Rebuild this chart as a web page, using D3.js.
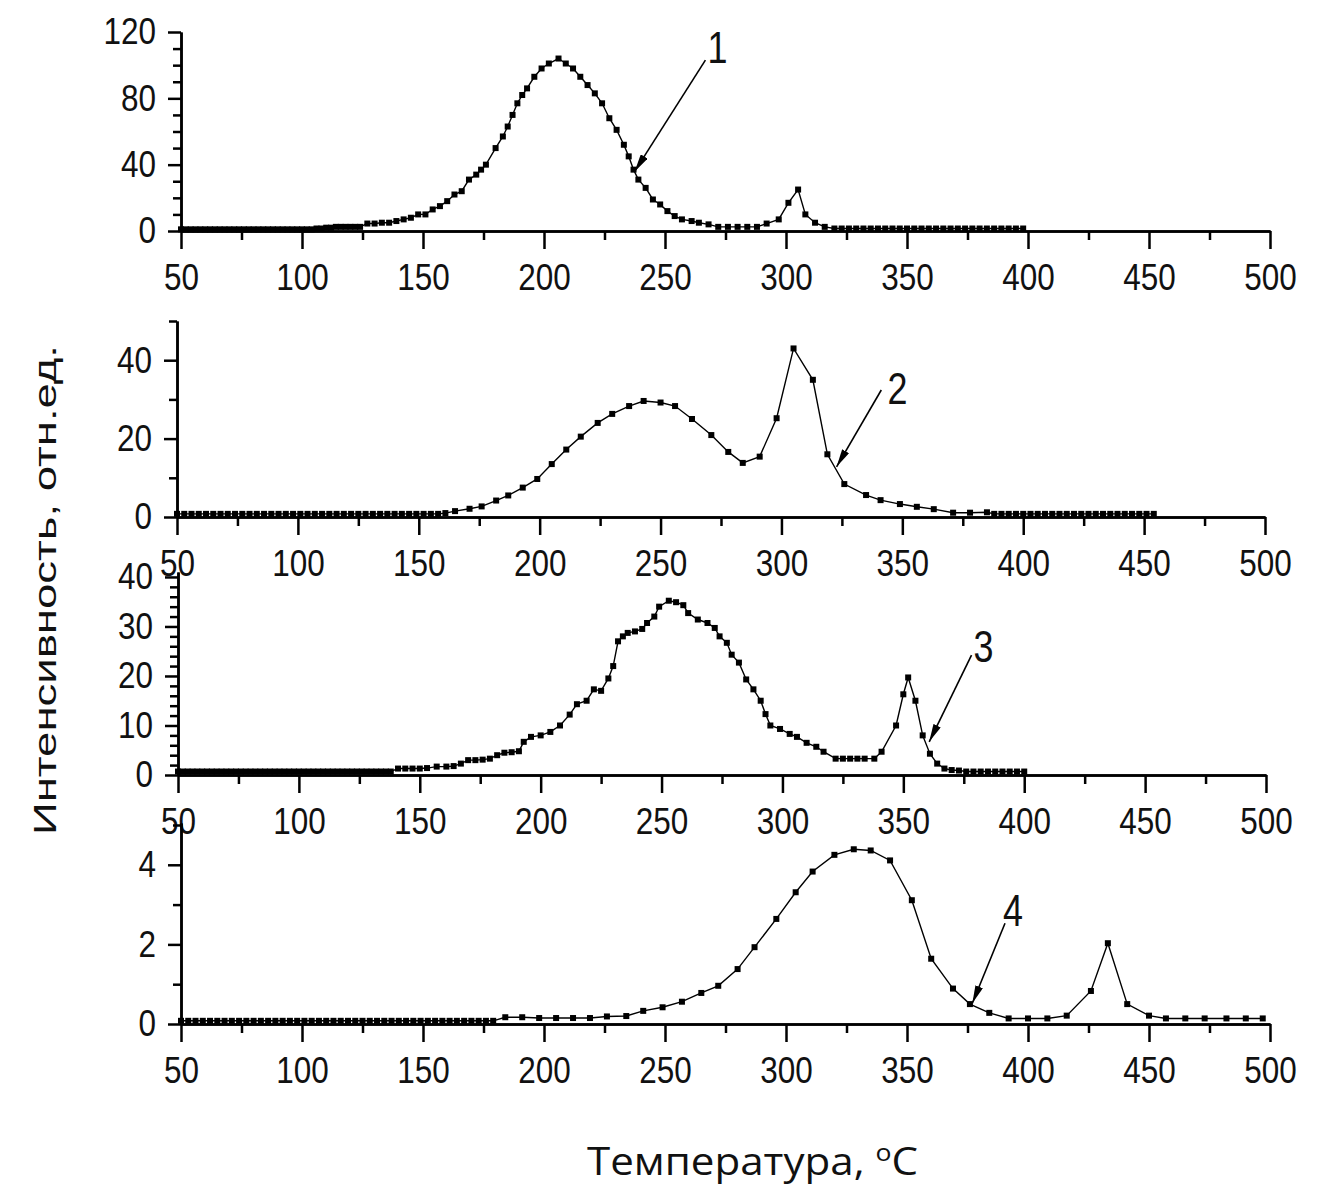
<!DOCTYPE html>
<html>
<head>
<meta charset="utf-8">
<script src="https://cdn.jsdelivr.net/npm/d3@7"></script>
<style>
  body { margin: 0; background: #fff; }
</style>
</head>
<body>
<svg id="chart"></svg>
<script>
const width = 1332;
const height = 1190;

// ---- data ----
const t1 = [50,52,54,56,58,60,62,64,66,68,70,72,74,76,78,80,82,84,86,88,90,92,94,96,98,100,102,104,106,108,
  110,112,114,116,118,120,122,124,
  127,130,133,136,139,142,145,148,151,154,157,160,163,166,169,172,174,176,180,183,185,187,189,191,193,196,199,202,206,209,212,215,218,221,224,227,230,233,235,237,239,242,245,248,251,254,257,261,264,268,272,276,280,284,288,292,297,301,305,308,312,316,320,
  323,326,329,332,335,338,341,344,347,350,353,356,359,362,365,368,371,374,377,380,383,386,389,392,395,398];
const i1 = [1,1,1,1,1,1,1,1,1,1,1,1,1,1,1,1,1,1,1,1,1,1,1,1,1,1,1,1,1.5,1.5,
  2,2,2.5,2.5,2.5,2.5,2.5,2.5,
  4.5,4.5,5,5,6,7,8,10,10,13,15,18,22,24,31,34,37,40,50,57,63,70,77,82,86,93,98,101,104,101,98,93,88,83,77,68,61,52,45,37,31,26,19,16,12,9,7,6,5,4,2.5,2.5,2.5,2.5,2.5,4.5,7,17,25,10,5,2.5,1.5,
  1.5,1.5,1.5,1.5,1.5,1.5,1.5,1.5,1.5,1.5,1.5,1.5,1.5,1.5,1.5,1.5,1.5,1.5,1.5,1.5,1.5,1.5,1.5,1.5,1.5,1.5];

const t2 = [50,53,56,59,62,65,68,71,74,77,80,83,86,89,92,95,98,101,104,107,110,113,116,119,122,125,128,131,134,137,140,143,146,149,152,155,158,
  161,165,171,176,182,187,193,199,205,211,217,224,230,237,243,250,256,263,271,278,284,291,298,305,313,319,326,335,341,349,356,363,371,378,385,
  388,391,394,397,400,403,406,409,412,415,418,421,424,427,430,433,436,439,442,445,448,451,454];
const i2 = [0.8,0.8,0.8,0.8,0.8,0.8,0.8,0.8,0.8,0.8,0.8,0.8,0.8,0.8,0.8,0.8,0.8,0.8,0.8,0.8,0.8,0.8,0.8,0.8,0.8,0.8,0.8,0.8,0.8,0.8,0.8,0.8,0.8,0.8,0.8,0.8,0.8,
  1,1.5,2.1,2.7,4.2,5.5,7.5,9.7,13.5,17.2,20.5,24,26.3,28.3,29.6,29.2,28.3,25,20.9,16.6,13.8,15.4,25.2,43,35,16,8.4,5.6,4.3,3.3,2.6,2,1.1,1.1,1.2,
  0.8,0.8,0.8,0.8,0.8,0.8,0.8,0.8,0.8,0.8,0.8,0.8,0.8,0.8,0.8,0.8,0.8,0.8,0.8,0.8,0.8,0.8,0.8];

const t3 = [50,52,54,56,58,60,62,64,66,68,70,72,74,76,78,80,82,84,86,88,90,92,94,96,98,100,102,104,106,108,110,112,114,116,118,120,122,124,126,128,130,132,134,136,138,
  141,144,147,150,153,157,161,164,167,170,173,176,179,182,185,188,191,193,196,200,204,208,212,215,219,222,225,228,230,232,234,236,239,242,244,247,249,253,256,259,261,265,269,272,274,277,279,282,285,288,291,293,295,299,303,306,310,314,317,322,325,328,331,334,338,341,347,350,352,355,358,361,364,367,370,373,
  376,379,382,385,388,391,394,397,400];
const i3 = [0.7,0.7,0.7,0.7,0.7,0.7,0.7,0.7,0.7,0.7,0.7,0.7,0.7,0.7,0.7,0.7,0.7,0.7,0.7,0.7,0.7,0.7,0.7,0.7,0.7,0.7,0.7,0.7,0.7,0.7,0.7,0.7,0.7,0.7,0.7,0.7,0.7,0.7,0.7,0.7,0.7,0.7,0.7,0.7,0.7,
  1.3,1.3,1.3,1.3,1.4,1.7,1.7,1.8,2.3,3,3,3.1,3.3,4,4.5,4.6,4.8,6.7,7.7,8,8.7,10,12.2,14.3,15,17.3,17,19.5,22,27,28,28.7,29,29.5,30.7,32,34,35.2,34.9,34.3,32.7,31.4,30.7,29.7,28,26.7,24.3,22.7,19.3,17.3,15,12.3,10,9.3,8.3,7.7,6.5,5.7,4.7,3.3,3.3,3.3,3.3,3.3,3.3,4.7,10,16.3,19.7,15,8,4.3,2.3,1.3,1.0,0.9,
  0.7,0.7,0.7,0.7,0.7,0.7,0.7,0.7,0.7];

const t4 = [50,53,56,59,62,65,68,71,74,77,80,83,86,89,92,95,98,101,104,107,110,113,116,119,122,125,128,131,134,137,140,143,146,149,152,155,158,161,164,167,170,173,176,179,
  184,191,198,205,212,219,226,234,241,249,257,265,272,280,287,296,304,311,320,328,335,343,352,360,369,376,384,392,400,408,416,426,433,441,450,457,465,473,482,490,497];
const i4 = [0.08,0.08,0.08,0.08,0.08,0.08,0.08,0.08,0.08,0.08,0.08,0.08,0.08,0.08,0.08,0.08,0.08,0.08,0.08,0.08,0.08,0.08,0.08,0.08,0.08,0.08,0.08,0.08,0.08,0.08,0.08,0.08,0.08,0.08,0.08,0.08,0.08,0.08,0.08,0.08,0.08,0.08,0.08,0.08,
  0.17,0.17,0.15,0.15,0.15,0.15,0.19,0.2,0.33,0.42,0.56,0.78,0.96,1.38,1.93,2.64,3.31,3.83,4.25,4.39,4.36,4.11,3.11,1.64,0.89,0.5,0.28,0.14,0.14,0.14,0.21,0.83,2.03,0.5,0.21,0.14,0.14,0.14,0.14,0.14,0.14];

// ticks
const xMajor = [50,100,150,200,250,300,350,400,450,500];
const xMinor = [75,125,175,225,275,325,375,425,475];
const yMajor1 = [0,40,80,120], yMinor1 = [10,20,30,50,60,70,90,100,110];
const yMajor2 = [0,20,40],      yMinor2 = [10,30,50];
const yMajor3 = [0,10,20,30,40], yMinor3 = [2,4,6,8,12,14,16,18,22,24,26,28,32,34,36,38];
const yMajor4 = [0,2,4],        yMinor4 = [1,3,5];

// callouts: [label, label T, label I, tail T, tail I, tip T, tip I]
const note1 = ["1", 271.7, 111, 266.7, 103, 237.4, 35.8];
const note2 = ["2", 348, 32.9, 341.3, 32.4, 322.8, 12.8];
const note3 = ["3", 383.2, 26.1, 378.2, 24.2, 360.7, 6.7];
const note4 = ["4", 393.8, 2.88, 390.5, 2.53, 377, 0.52];

const yTitle = "Интенсивность, отн.ед.";
const xTitle = "Температура, ";

// ---- layout ----
// narrow look: Arial-metric font squeezed per label
const tickFont = "'Liberation Sans', Arial, sans-serif";
const digitW = 17.5;

const panels = [
  {t: t1, v: i1, yMax: 120, yMajor: yMajor1, yMinor: yMinor1, note: note1, x0: 181, x1: 1270, yTop: 32,  yBot: 231},
  {t: t2, v: i2, yMax: 50,  yMajor: yMajor2, yMinor: yMinor2, note: note2, x0: 177, x1: 1265, yTop: 321, yBot: 517},
  {t: t3, v: i3, yMax: 41,  yMajor: yMajor3, yMinor: yMinor3, note: note3, x0: 178, x1: 1266, yTop: 572, yBot: 775},
  {t: t4, v: i4, yMax: 5.05, yMajor: yMajor4, yMinor: yMinor4, note: note4, x0: 181, x1: 1270, yTop: 823, yBot: 1024}
];

const svg = d3.select("#chart")
  .attr("width", width)
  .attr("height", height)
  .attr("viewBox", [0, 0, width, height]);

svg.append("defs").append("marker")
  .attr("id", "arrow")
  .attr("viewBox", "0 0 18 8")
  .attr("refX", 18).attr("refY", 4)
  .attr("markerWidth", 18).attr("markerHeight", 8)
  .attr("markerUnits", "userSpaceOnUse")
  .attr("orient", "auto")
  .append("path")
  .attr("d", "M0,0L18,4L0,8Z")
  .attr("fill", "#000");

function styleAxis(g) {
  g.attr("font-family", null).attr("font-size", null);
  g.selectAll(".domain").attr("stroke", "#000").attr("stroke-width", 2.5);
  g.selectAll(".tick line").attr("stroke", "#000").attr("stroke-width", 2.5);
  g.selectAll("text")
    .attr("fill", "#111")
    .style("font-family", tickFont)
    .style("font-size", "37px")
    .attr("textLength", function() { return this.textContent.length * digitW; })
    .attr("lengthAdjust", "spacingAndGlyphs");
}

panels.forEach(p => {
  const x = d3.scaleLinear([50, 500], [p.x0, p.x1]);
  const y = d3.scaleLinear([0, p.yMax], [p.yBot, p.yTop]);
  const g = svg.append("g");

  // x axis: minor then major
  g.append("g")
    .attr("transform", `translate(0,${p.yBot})`)
    .call(d3.axisBottom(x).tickValues(xMinor).tickSize(9).tickSizeOuter(0).tickFormat(""))
    .call(styleAxis);
  g.append("g")
    .attr("transform", `translate(0,${p.yBot})`)
    .call(d3.axisBottom(x).tickValues(xMajor).tickSize(18).tickSizeOuter(0).tickPadding(15))
    .call(styleAxis);

  // y axis
  g.append("g")
    .attr("transform", `translate(${p.x0},0)`)
    .call(d3.axisLeft(y).tickValues(p.yMinor).tickSize(8).tickSizeOuter(0).tickFormat(""))
    .call(styleAxis);
  g.append("g")
    .attr("transform", `translate(${p.x0},0)`)
    .call(d3.axisLeft(y).tickValues(p.yMajor).tickSize(13).tickSizeOuter(0).tickPadding(12).tickFormat(d3.format("d")))
    .call(styleAxis);

  const pts = p.t.map((t, k) => [t, p.v[k]]);

  g.append("path")
    .datum(pts)
    .attr("fill", "none")
    .attr("stroke", "#000")
    .attr("stroke-width", 1.4)
    .attr("d", d3.line().x(d => x(d[0])).y(d => y(d[1])));

  g.append("g")
    .selectAll("rect")
    .data(pts)
    .join("rect")
    .attr("x", d => x(d[0]) - 3)
    .attr("y", d => y(d[1]) - 3)
    .attr("width", 6)
    .attr("height", 6)
    .attr("fill", "#000");

  // callout with arrow
  const [lab, lt, li, at, ai, bt, bi] = p.note;
  g.append("line")
    .attr("x1", x(at)).attr("y1", y(ai))
    .attr("x2", x(bt)).attr("y2", y(bi))
    .attr("stroke", "#000")
    .attr("stroke-width", 1.6)
    .attr("marker-end", "url(#arrow)");
  g.append("text")
    .attr("x", x(lt) - 10)
    .attr("y", y(li))
    .attr("dy", "0.36em")
    .attr("textLength", 20)
    .attr("lengthAdjust", "spacingAndGlyphs")
    .style("font-family", tickFont)
    .style("font-size", "45px")
    .attr("fill", "#111")
    .text(lab);
});

// axis titles
svg.append("text")
  .attr("transform", "translate(56,590) rotate(-90)")
  .attr("text-anchor", "middle")
  .attr("textLength", 490)
  .attr("lengthAdjust", "spacingAndGlyphs")
  .style("font-family", tickFont)
  .style("font-size", "31px")
  .attr("fill", "#111")
  .text(yTitle);

const xt = svg.append("text")
  .attr("x", 587)
  .attr("y", 1175)
  .attr("textLength", 331)
  .attr("lengthAdjust", "spacingAndGlyphs")
  .style("font-family", "'Open Sans', 'Noto Sans', sans-serif")
  .style("font-size", "38px")
  .attr("fill", "#111");
xt.append("tspan").text(xTitle);
xt.append("tspan").attr("dy", -14).style("font-size", "24px").text("o");
xt.append("tspan").attr("dy", 14).text("C");
</script>
</body>
</html>
